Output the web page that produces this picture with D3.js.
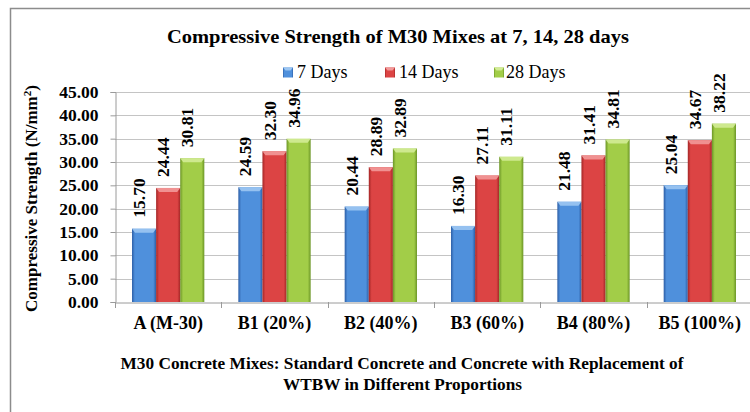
<!DOCTYPE html>
<html><head><meta charset="utf-8">
<script src="https://cdn.jsdelivr.net/npm/d3@7"></script>
<style>body{margin:0;background:#fff}svg{display:block}</style>
</head><body>
<svg id="c" width="750" height="412"></svg>
<script>
const categories = ["A (M-30)","B1 (20%)","B2 (40%)","B3 (60%)","B4 (80%)","B5 (100%)"];
const seriesNames = ["7 Days","14 Days","28 Days"];
const days7  = [15.70,24.59,20.44,16.30,21.48,25.04];
const days14 = [24.44,32.30,28.89,27.11,31.41,34.67];
const days28 = [30.81,34.96,32.89,31.11,34.81,38.22];
const yTicks = [0,5,10,15,20,25,30,35,40,45];
const colors = [
  {dark:"#2c5ea6", mid:"#4f90dc", light:"#9cc6f2"},
  {dark:"#a32626", mid:"#dc4444", light:"#f29a9a"},
  {dark:"#6b9526", mid:"#a2cd48", light:"#d3ec96"}
];
const series = [days7, days14, days28];

(function(){
const svg = d3.select("#c");
const font = "'Liberation Serif','Times New Roman',serif";
const defs = svg.append("defs");
colors.forEach((c,i)=>{
  const g = defs.append("linearGradient").attr("id","g"+i).attr("x1","0").attr("x2","1").attr("y1","0").attr("y2","0");
  g.append("stop").attr("offset","0").attr("stop-color",c.dark);
  g.append("stop").attr("offset","0.12").attr("stop-color",c.mid);
  g.append("stop").attr("offset","0.5").attr("stop-color",c.mid);
  g.append("stop").attr("offset","0.88").attr("stop-color",c.mid);
  g.append("stop").attr("offset","1").attr("stop-color",c.dark);
});

svg.append("rect").attr("x",10.5).attr("y",8.5).attr("width",760).attr("height",420)
  .attr("fill","#fff").attr("stroke","#8c8c8c").attr("stroke-width",1.5);

const pL = 115, pR = 753, pT = 92, pB = 302;
const x0 = d3.scaleBand().domain(categories).range([pL,pR]).paddingInner(0.32).paddingOuter(0.16);
const x1 = d3.scaleBand().domain(seriesNames).range([0,x0.bandwidth()]);
const y = d3.scaleLinear().domain([0,45]).range([pB,pT]);

svg.append("g").selectAll("line").data(yTicks.slice(1)).join("line")
  .attr("x1",pL).attr("x2",pR).attr("y1",d=>Math.round(y(d))+0.5).attr("y2",d=>Math.round(y(d))+0.5)
  .attr("stroke","#c4c4c4").attr("stroke-width",1);

const ya = svg.append("g").attr("transform",`translate(${pL+0.5},0)`)
  .call(d3.axisLeft(y).tickValues(yTicks).tickFormat(d3.format(".2f")).tickSize(5).tickPadding(12));
ya.select(".domain").attr("stroke","#9a9a9a");
ya.selectAll(".tick line").attr("stroke","#9a9a9a");
ya.selectAll("text").attr("font-family",font).attr("font-weight","bold").attr("font-size",17.5).attr("fill","#000");

const xa = svg.append("g").attr("transform",`translate(0,${pB+0.5})`)
  .call(d3.axisBottom(x0).tickSize(0).tickPadding(14));
xa.select(".domain").attr("stroke","#9a9a9a");
xa.selectAll("text").attr("font-family",font).attr("font-weight","bold").attr("font-size",18).attr("fill","#000");
svg.append("g").selectAll("line").data(d3.range(categories.length+1)).join("line")
  .attr("x1",d=>Math.round(pL+d*x0.step())+0.5).attr("x2",d=>Math.round(pL+d*x0.step())+0.5)
  .attr("y1",pB).attr("y2",pB+6).attr("stroke","#9a9a9a");

const groups = svg.append("g").selectAll("g").data(categories).join("g")
  .attr("transform",d=>`translate(${x0(d)},0)`);
seriesNames.forEach((s,si)=>{
  groups.append("rect")
    .attr("x",x1(s)).attr("width",x1.bandwidth())
    .attr("y",(d,i)=>y(series[si][i])).attr("height",(d,i)=>pB-y(series[si][i]))
    .attr("fill",`url(#g${si})`);
  groups.append("path")
    .attr("d",(d,i)=>{const yy=y(series[si][i]);const xx=x1(s);const w=x1.bandwidth();
      return `M${xx},${yy}L${xx+w},${yy}L${xx+w-3},${yy+4}L${xx+3},${yy+4}Z`;})
    .attr("fill",colors[si].light).attr("opacity",0.9);
  groups.append("text")
    .attr("transform",(d,i)=>`translate(${x1(s)+x1.bandwidth()/2+1},${y(series[si][i])-11}) rotate(-90)`)
    .attr("font-family",font).attr("font-weight","bold").attr("font-size",17.5)
    .text((d,i)=>series[si][i].toFixed(2));
});

svg.append("text").attr("x",398).attr("y",43).attr("text-anchor","middle")
  .attr("font-family",font).attr("font-weight","bold").attr("font-size",19.5)
  .attr("textLength",462).attr("lengthAdjust","spacingAndGlyphs")
  .text("Compressive Strength of M30 Mixes at 7, 14, 28 days");

const legSw = [283,385,494];
const legTx = [297,399,506];
seriesNames.forEach((s,i)=>{
  svg.append("rect").attr("x",legSw[i]).attr("y",67.5).attr("width",10).attr("height",10).attr("fill",`url(#g${i})`);
  svg.append("path").attr("d",`M${legSw[i]},67.5h10l-2.5,3h-5z`).attr("fill",colors[i].light);
  svg.append("text").attr("x",legTx[i]).attr("y",78).attr("font-family",font).attr("font-size",18).text(s);
});

const yt = svg.append("text").attr("transform","translate(37,198.5) rotate(-90)").attr("text-anchor","middle")
  .attr("font-family",font).attr("font-weight","bold").attr("font-size",17);
yt.append("tspan").text("Compressive Strength  (N/mm");
yt.append("tspan").attr("dy",-6).attr("font-size",11).text("2");
yt.append("tspan").attr("dy",6).text(")");

svg.append("text").attr("x",402).attr("y",368.5).attr("text-anchor","middle")
  .attr("font-family",font).attr("font-weight","bold").attr("font-size",17.5)
  .attr("textLength",563).attr("lengthAdjust","spacingAndGlyphs")
  .text("M30 Concrete Mixes:  Standard Concrete and Concrete with Replacement of");
svg.append("text").attr("x",402.5).attr("y",389.5).attr("text-anchor","middle")
  .attr("font-family",font).attr("font-weight","bold").attr("font-size",17.5)
  .attr("textLength",239).attr("lengthAdjust","spacingAndGlyphs")
  .text("WTBW in Different Proportions");
})();
</script>
</body></html>
